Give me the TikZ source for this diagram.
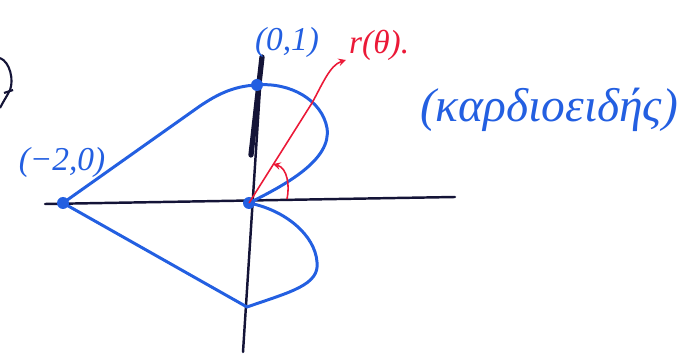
\documentclass[tikz,border=0pt]{standalone}
\usepackage{fontspec}
\setmainfont{Liberation Serif}
\definecolor{penblue}{RGB}{35,95,225}
\definecolor{penred}{RGB}{235,25,55}
\definecolor{penink}{RGB}{20,20,55}
\tikzset{
  axis/.style={penink, line width=1.4pt, line cap=round},
  curve/.style={penblue, line width=1.7pt, line cap=round, line join=round},
  ray/.style={penred, line width=0.9pt},
  dot/.style={circle, fill=penblue, inner sep=0pt, minimum size=0.24cm},
  hand/.style={font=\fontsize{19}{23}\selectfont\itshape}
}
\begin{document}
\begin{tikzpicture}[>=stealth, x=0.02cm, y=-0.02cm]
  \useasboundingbox (0,0) rectangle (693,354);
  % 左上角残缺字迹
  \draw[penink, line width=1.2pt] (0,58) .. controls (10,62) and (14,80) .. (10,90)
    .. controls (7,96) and (3,102) .. (0,108);
  \draw[penink, line width=1.2pt] (4,93) -- (13,90);
  % 坐标轴
  \coordinate (XL) at (45,204);
  \coordinate (XR) at (455,197);
  \coordinate (YT) at (262,57);
  \coordinate (YM) at (251,155);
  \coordinate (YB) at (243,352);
  \draw[axis] (XL) -- (XR);
  \draw[axis] (YT) -- (YB);
  \draw[axis, line width=3pt] (YT) -- (YM);
  % 心形线
  \node[dot] (O) at (249,203) {};
  \node[dot] (T) at (257,85) {};
  \node[dot] (L) at (63,203) {};
  \coordinate (B) at (247,307);
  \draw[curve] (O.center) .. controls (285,185) and (332,160) .. (327,128)
    .. controls (322,100) and (290,82) .. (T.center)
    .. controls (232,86) and (215,96) .. (200,106) -- (L.center) -- (B)
    .. controls (290,292) and (320,285) .. (317,262)
    .. controls (315,235) and (285,210) .. (O.center);
  % r(θ) 与角度
  \coordinate (RM) at (312,103);
  \coordinate (RT) at (346,60);
  \draw[ray, ->] (O.center) -- (RM) .. controls (322,85) and (330,65) .. (RT);
  \coordinate (A0) at (287,199);
  \coordinate (A1) at (273,164);
  \draw[ray, ->] (A0) .. controls (290,185) and (287,168) .. (A1);
  % 标注
  \node[hand, penblue] (lT) at (287,42) {(0,1)};
  \node[hand, penblue] (lL) at (62,162) {(−2,0)};
  \node[hand, penred, anchor=west] (lr) at (343,45) {r(θ).};
  \node[penblue, font=\fontsize{27}{32}\selectfont\itshape] (name) at (549,110) {(καρδιοειδής)};
\end{tikzpicture}
\end{document}
